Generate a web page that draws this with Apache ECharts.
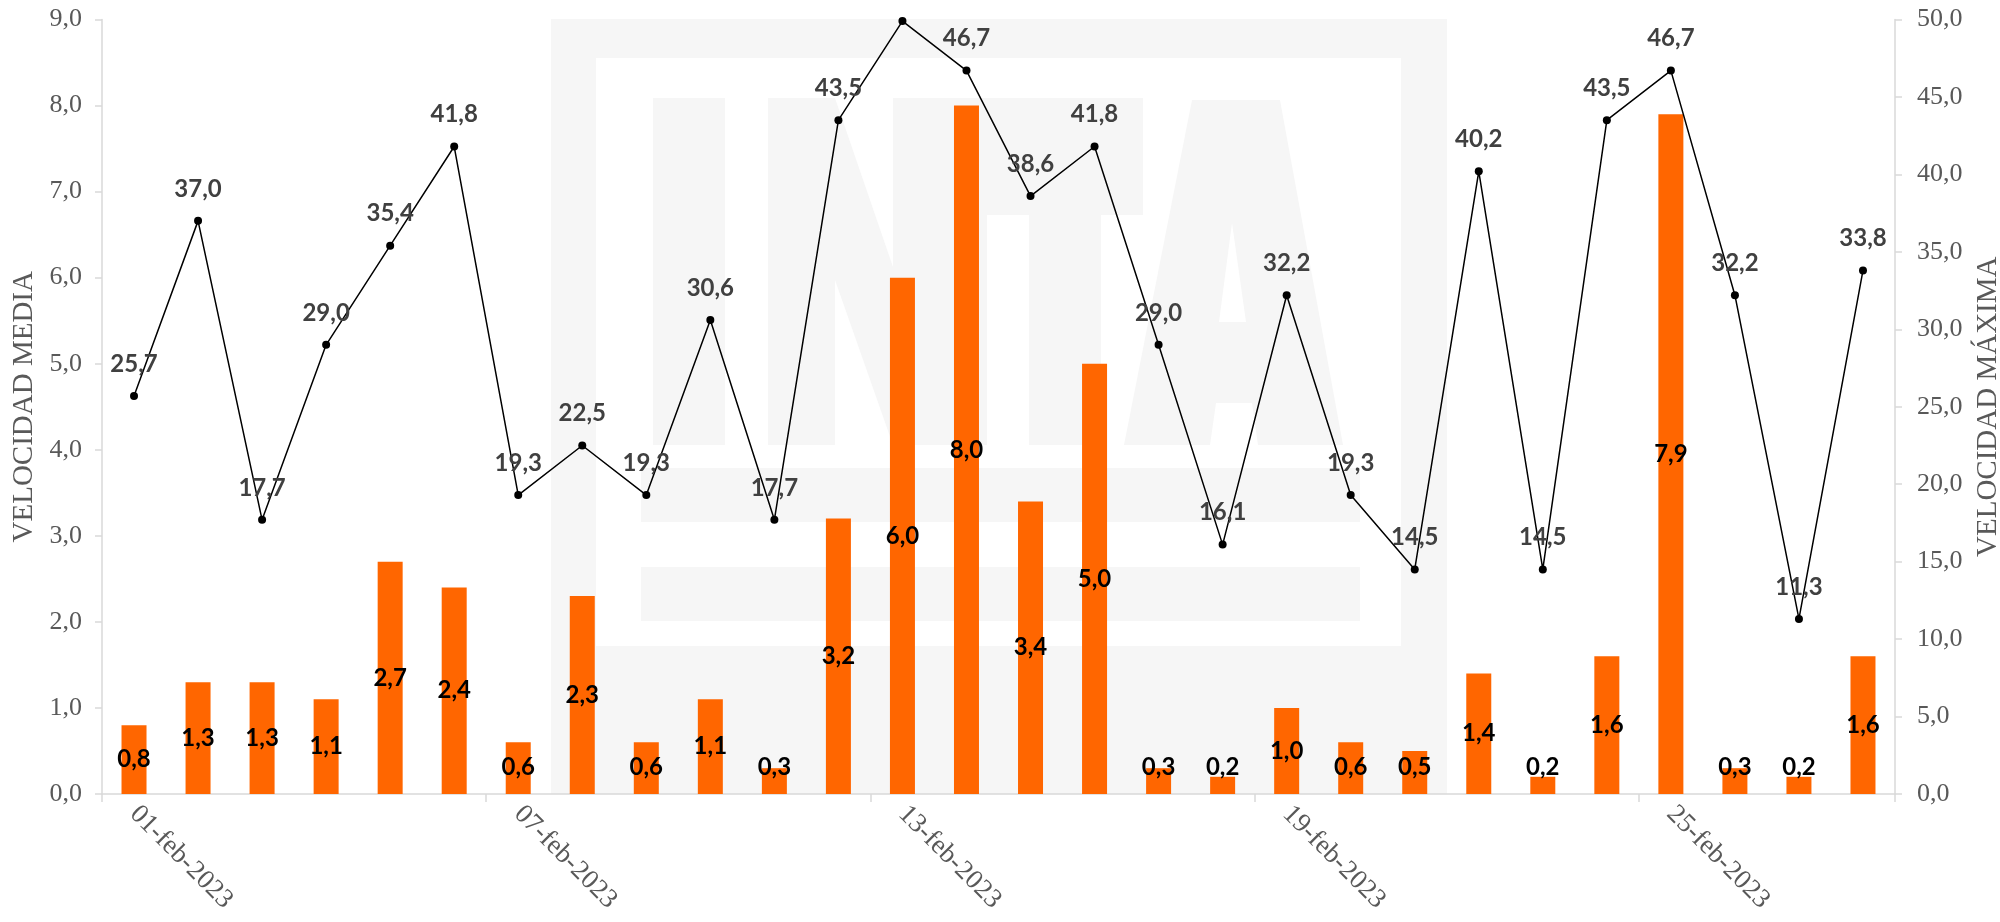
<!DOCTYPE html>
<html>
<head>
<meta charset="utf-8">
<script src="https://cdn.jsdelivr.net/npm/echarts@6/dist/echarts.min.js"></script>
<style>
html,body{margin:0;padding:0;background:#fff;}
#c{width:2000px;height:922px;}
</style>
</head>
<body>
<div id="c"></div>
<script>
const categories = ['01-feb-2023','02-feb-2023','03-feb-2023','04-feb-2023','05-feb-2023','06-feb-2023','07-feb-2023','08-feb-2023','09-feb-2023','10-feb-2023','11-feb-2023','12-feb-2023','13-feb-2023','14-feb-2023','15-feb-2023','16-feb-2023','17-feb-2023','18-feb-2023','19-feb-2023','20-feb-2023','21-feb-2023','22-feb-2023','23-feb-2023','24-feb-2023','25-feb-2023','26-feb-2023','27-feb-2023','28-feb-2023'];
const velocidadMedia = [0.8,1.3,1.3,1.1,2.7,2.4,0.6,2.3,0.6,1.1,0.3,3.2,6.0,8.0,3.4,5.0,0.3,0.2,1.0,0.6,0.5,1.4,0.2,1.6,7.9,0.3,0.2,1.6];
const velocidadMaxima = [25.7,37.0,17.7,29.0,35.4,41.8,19.3,22.5,19.3,30.6,17.7,43.5,49.9,46.7,38.6,41.8,29.0,16.1,32.2,19.3,14.5,40.2,14.5,43.5,46.7,32.2,11.3,33.8];
const hiddenMaxLabels = [12];
const leftAxisName = 'VELOCIDAD MEDIA';
const rightAxisName = 'VELOCIDAD MÁXIMA';

const fmt = v => (typeof v === 'object' ? v.value : v).toFixed(1).replace('.', ',');
const serif = '"Liberation Serif", "Times New Roman", serif';
const sans = 'Lato, "Open Sans", sans-serif';
const wm = '#f6f6f6';
const smallBarLimit = 0.67;

const chart = echarts.init(document.getElementById('c'), null, {renderer: 'canvas'});
const option = {
  animation: false,
  backgroundColor: '#ffffff',
  grid: {left: 102, right: 105, top: 19.5, bottom: 128, containLabel: false, outerBoundsMode: 'none'},
  graphic: [
    {type: 'group', silent: true, z: -10, children: [
      {type: 'rect', shape: {x: 551, y: 19, width: 896, height: 775}, style: {fill: wm}},
      {type: 'rect', shape: {x: 596, y: 58, width: 805, height: 588}, style: {fill: '#ffffff'}},
      {type: 'rect', shape: {x: 653, y: 98, width: 72, height: 347}, style: {fill: wm}},
      {type: 'rect', shape: {x: 768, y: 98, width: 67, height: 347}, style: {fill: wm}},
      {type: 'polygon', shape: {points: [[835,98],[893,267],[893,445],[835,280]]}, style: {fill: wm}},
      {type: 'rect', shape: {x: 893, y: 98, width: 94, height: 347}, style: {fill: wm}},
      {type: 'rect', shape: {x: 987, y: 98, width: 156, height: 117}, style: {fill: wm}},
      {type: 'rect', shape: {x: 1029, y: 215, width: 72, height: 230}, style: {fill: wm}},
      {type: 'polygon', shape: {points: [[1192,100],[1280,100],[1343,445],[1258,445],[1252,403],[1216,403],[1210,445],[1124,445]]}, style: {fill: wm}},
      {type: 'polygon', shape: {points: [[1232,223],[1246,322],[1219,322]]}, style: {fill: '#ffffff'}},
      {type: 'rect', shape: {x: 641, y: 468, width: 719, height: 54}, style: {fill: wm}},
      {type: 'rect', shape: {x: 641, y: 567, width: 719, height: 54}, style: {fill: wm}}
    ]}
  ],
  xAxis: {
    type: 'category',
    data: categories,
    boundaryGap: true,
    axisLine: {show: true, lineStyle: {color: '#d9d9d9', width: 1.5}},
    axisTick: {show: true, interval: 5, length: 8, lineStyle: {color: '#d9d9d9', width: 1.5}},
    axisLabel: {interval: 5, rotate: -45, margin: 16, color: '#595959', fontFamily: serif, fontSize: 27}
  },
  yAxis: [
    {
      type: 'value', min: 0, max: 9, interval: 1, position: 'left',
      name: leftAxisName, nameLocation: 'middle', nameRotate: 90, nameGap: 62,
      nameTextStyle: {color: '#595959', fontFamily: serif, fontSize: 29, padding: [0, 0, 0, 0]},
      axisLine: {show: true, lineStyle: {color: '#d9d9d9', width: 1.5}},
      axisTick: {show: true, length: 7, lineStyle: {color: '#d9d9d9', width: 1.5}},
      splitLine: {show: false},
      axisLabel: {formatter: v => v.toFixed(1).replace('.', ','), margin: 20, color: '#595959', fontFamily: serif, fontSize: 26}
    },
    {
      type: 'value', min: 0, max: 50, interval: 5, position: 'right',
      name: rightAxisName, nameLocation: 'middle', nameRotate: 90, nameGap: 74,
      nameTextStyle: {color: '#595959', fontFamily: serif, fontSize: 29},
      axisLine: {show: true, lineStyle: {color: '#d9d9d9', width: 1.5}},
      axisTick: {show: true, length: 7, lineStyle: {color: '#d9d9d9', width: 1.5}},
      splitLine: {show: false},
      axisLabel: {formatter: v => v.toFixed(1).replace('.', ','), margin: 22, color: '#595959', fontFamily: serif, fontSize: 26}
    }
  ],
  series: [
    {
      name: leftAxisName,
      type: 'bar',
      yAxisIndex: 0,
      data: velocidadMedia.map(v => v < smallBarLimit ? {value: v, label: {position: 'insideBottom', distance: 15}} : v),
      barWidth: 25,
      itemStyle: {color: '#ff6600'},
      z: 2,
      label: {show: true, position: 'inside', formatter: p => fmt(p.value), color: '#000000', fontFamily: sans, fontWeight: 'bold', fontSize: 24}
    },
    {
      name: rightAxisName,
      type: 'line',
      yAxisIndex: 1,
      data: velocidadMaxima.map((v, i) => hiddenMaxLabels.includes(i) ? {value: v, label: {show: false}} : v),
      symbol: 'circle',
      symbolSize: 8,
      lineStyle: {color: '#000000', width: 1.5},
      itemStyle: {color: '#000000'},
      z: 3,
      label: {show: true, position: 'top', distance: 16, formatter: p => fmt(p.value), color: '#404040', fontFamily: sans, fontWeight: 'bold', fontSize: 24}
    }
  ]
};
chart.setOption(option);
</script>
</body>
</html>
